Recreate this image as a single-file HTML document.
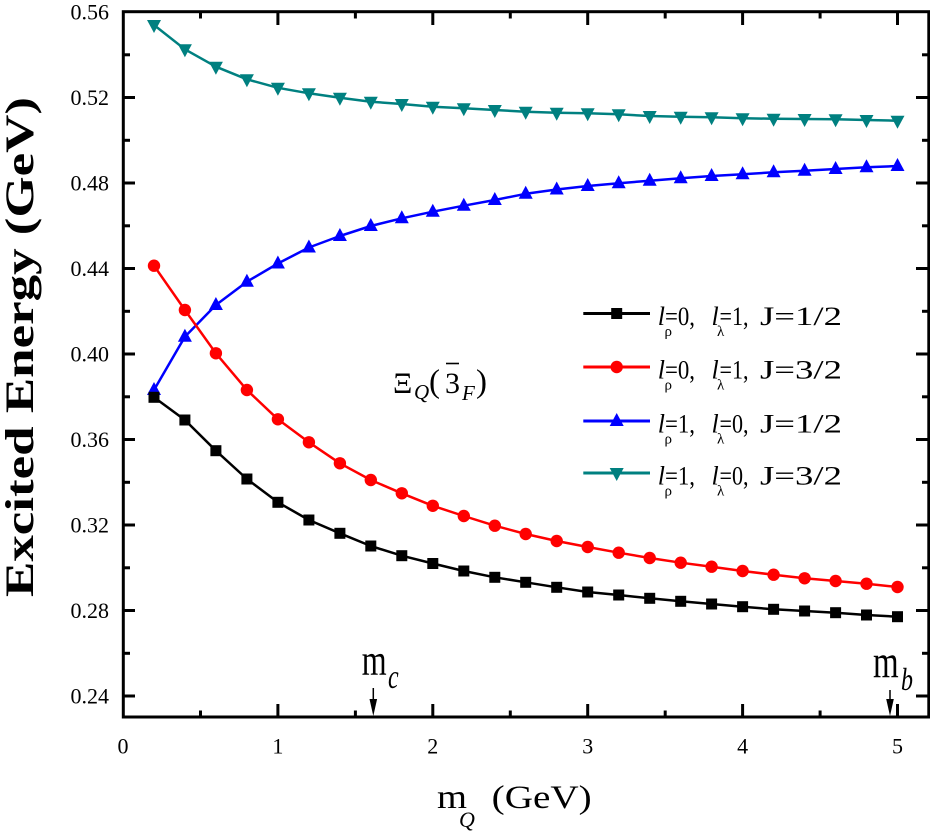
<!DOCTYPE html>
<html><head><meta charset="utf-8"><style>
html,body{margin:0;padding:0;background:#fff;}
svg{display:block;font-family:"Liberation Serif","Noto Serif CJK SC","Times New Roman",Times,serif;}
svg text{font-family:"Liberation Serif","Noto Serif CJK SC","Times New Roman",Times,serif !important;fill:#000;}
</style></head><body>
<svg width="930" height="833" viewBox="0 0 930 833" xmlns="http://www.w3.org/2000/svg" font-family="Liberation Serif, Noto Serif CJK SC, Times New Roman, Times, serif">
<defs>
<rect id="sq" x="-5.5" y="-5.5" width="11" height="11" fill="#000"/>
<circle id="ci" r="6.2" fill="#ff0000"/>
<polygon id="tu" points="0,-8 7,5 -7,5" fill="#0000ff"/>
<polygon id="td" points="0,8 7,-5 -7,-5" fill="#008080"/>
</defs>
<rect x="0" y="0" width="930" height="833" fill="#fff"/>

<g fill="none" stroke-width="2.5" stroke-linejoin="round">
<polyline stroke="#008080" points="154.0,25 184.9,49.3 215.9,66.7 246.9,79.3 277.9,87.8 308.9,93.3 339.9,97.7 370.8,101.7 401.8,104 432.8,106.7 463.8,108.3 494.8,110 525.7,111.7 556.7,112.7 587.7,113.3 618.7,114.3 649.7,116 680.7,116.7 711.6,117.3 742.6,118.3 773.6,118.7 804.6,119 835.6,119.3 866.5,120 897.5,120.7"/>
<polyline stroke="#0000ff" points="154.0,390 184.9,336.7 215.9,305 246.9,281.7 277.9,263.5 308.9,247.5 339.9,236 370.8,226 401.8,218.3 432.8,211.7 463.8,205.7 494.8,200 525.7,193.8 556.7,189.5 587.7,186 618.7,183.3 649.7,180.7 680.7,178.3 711.6,176 742.6,174.3 773.6,172.3 804.6,170.7 835.6,169 866.5,167.3 897.5,166"/>
<polyline stroke="#ff0000" points="154.0,265.7 184.9,310 215.9,353.3 246.9,390 277.9,419.3 308.9,442.3 339.9,463.3 370.8,480 401.8,493.3 432.8,505.8 463.8,516 494.8,525.7 525.7,534 556.7,541 587.7,547 618.7,552.7 649.7,558 680.7,562.7 711.6,566.7 742.6,571 773.6,574.7 804.6,578.3 835.6,581 866.5,583.7 897.5,587"/>
<polyline stroke="#000" points="154.0,397.3 184.9,420 215.9,450.7 246.9,479 277.9,502.3 308.9,520 339.9,533.3 370.8,546 401.8,555.7 432.8,563.5 463.8,571 494.8,577.3 525.7,582.3 556.7,587.3 587.7,592 618.7,595 649.7,598.3 680.7,601.3 711.6,604 742.6,606.7 773.6,609.3 804.6,611 835.6,612.7 866.5,615 897.5,616.7"/>
</g>
<g>
<use href="#td" x="154.0" y="25"/><use href="#td" x="184.9" y="49.3"/><use href="#td" x="215.9" y="66.7"/><use href="#td" x="246.9" y="79.3"/><use href="#td" x="277.9" y="87.8"/><use href="#td" x="308.9" y="93.3"/><use href="#td" x="339.9" y="97.7"/><use href="#td" x="370.8" y="101.7"/><use href="#td" x="401.8" y="104"/><use href="#td" x="432.8" y="106.7"/><use href="#td" x="463.8" y="108.3"/><use href="#td" x="494.8" y="110"/><use href="#td" x="525.7" y="111.7"/><use href="#td" x="556.7" y="112.7"/><use href="#td" x="587.7" y="113.3"/><use href="#td" x="618.7" y="114.3"/><use href="#td" x="649.7" y="116"/><use href="#td" x="680.7" y="116.7"/><use href="#td" x="711.6" y="117.3"/><use href="#td" x="742.6" y="118.3"/><use href="#td" x="773.6" y="118.7"/><use href="#td" x="804.6" y="119"/><use href="#td" x="835.6" y="119.3"/><use href="#td" x="866.5" y="120"/><use href="#td" x="897.5" y="120.7"/>

<use href="#tu" x="154.0" y="390"/><use href="#tu" x="184.9" y="336.7"/><use href="#tu" x="215.9" y="305"/><use href="#tu" x="246.9" y="281.7"/><use href="#tu" x="277.9" y="263.5"/><use href="#tu" x="308.9" y="247.5"/><use href="#tu" x="339.9" y="236"/><use href="#tu" x="370.8" y="226"/><use href="#tu" x="401.8" y="218.3"/><use href="#tu" x="432.8" y="211.7"/><use href="#tu" x="463.8" y="205.7"/><use href="#tu" x="494.8" y="200"/><use href="#tu" x="525.7" y="193.8"/><use href="#tu" x="556.7" y="189.5"/><use href="#tu" x="587.7" y="186"/><use href="#tu" x="618.7" y="183.3"/><use href="#tu" x="649.7" y="180.7"/><use href="#tu" x="680.7" y="178.3"/><use href="#tu" x="711.6" y="176"/><use href="#tu" x="742.6" y="174.3"/><use href="#tu" x="773.6" y="172.3"/><use href="#tu" x="804.6" y="170.7"/><use href="#tu" x="835.6" y="169"/><use href="#tu" x="866.5" y="167.3"/><use href="#tu" x="897.5" y="166"/>

<use href="#ci" x="154.0" y="265.7"/><use href="#ci" x="184.9" y="310"/><use href="#ci" x="215.9" y="353.3"/><use href="#ci" x="246.9" y="390"/><use href="#ci" x="277.9" y="419.3"/><use href="#ci" x="308.9" y="442.3"/><use href="#ci" x="339.9" y="463.3"/><use href="#ci" x="370.8" y="480"/><use href="#ci" x="401.8" y="493.3"/><use href="#ci" x="432.8" y="505.8"/><use href="#ci" x="463.8" y="516"/><use href="#ci" x="494.8" y="525.7"/><use href="#ci" x="525.7" y="534"/><use href="#ci" x="556.7" y="541"/><use href="#ci" x="587.7" y="547"/><use href="#ci" x="618.7" y="552.7"/><use href="#ci" x="649.7" y="558"/><use href="#ci" x="680.7" y="562.7"/><use href="#ci" x="711.6" y="566.7"/><use href="#ci" x="742.6" y="571"/><use href="#ci" x="773.6" y="574.7"/><use href="#ci" x="804.6" y="578.3"/><use href="#ci" x="835.6" y="581"/><use href="#ci" x="866.5" y="583.7"/><use href="#ci" x="897.5" y="587"/>

<use href="#sq" x="154.0" y="397.3"/><use href="#sq" x="184.9" y="420"/><use href="#sq" x="215.9" y="450.7"/><use href="#sq" x="246.9" y="479"/><use href="#sq" x="277.9" y="502.3"/><use href="#sq" x="308.9" y="520"/><use href="#sq" x="339.9" y="533.3"/><use href="#sq" x="370.8" y="546"/><use href="#sq" x="401.8" y="555.7"/><use href="#sq" x="432.8" y="563.5"/><use href="#sq" x="463.8" y="571"/><use href="#sq" x="494.8" y="577.3"/><use href="#sq" x="525.7" y="582.3"/><use href="#sq" x="556.7" y="587.3"/><use href="#sq" x="587.7" y="592"/><use href="#sq" x="618.7" y="595"/><use href="#sq" x="649.7" y="598.3"/><use href="#sq" x="680.7" y="601.3"/><use href="#sq" x="711.6" y="604"/><use href="#sq" x="742.6" y="606.7"/><use href="#sq" x="773.6" y="609.3"/><use href="#sq" x="804.6" y="611"/><use href="#sq" x="835.6" y="612.7"/><use href="#sq" x="866.5" y="615"/><use href="#sq" x="897.5" y="616.7"/>
</g>

<rect x="123.3" y="11.7" width="805.5" height="705.3" fill="none" stroke="#000" stroke-width="3"/>
<g stroke="#000" stroke-width="3">
<line x1="277.9" y1="717" x2="277.9" y2="704"/><line x1="432.8" y1="717" x2="432.8" y2="704"/><line x1="587.7" y1="717" x2="587.7" y2="704"/><line x1="742.6" y1="717" x2="742.6" y2="704"/><line x1="897.5" y1="717" x2="897.5" y2="704"/>
<line x1="277.9" y1="12" x2="277.9" y2="25"/><line x1="432.8" y1="12" x2="432.8" y2="25"/><line x1="587.7" y1="12" x2="587.7" y2="25"/><line x1="742.6" y1="12" x2="742.6" y2="25"/><line x1="897.5" y1="12" x2="897.5" y2="25"/>
<line x1="200.5" y1="717" x2="200.5" y2="710.5"/><line x1="355.4" y1="717" x2="355.4" y2="710.5"/><line x1="510.3" y1="717" x2="510.3" y2="710.5"/><line x1="665.2" y1="717" x2="665.2" y2="710.5"/><line x1="820.1" y1="717" x2="820.1" y2="710.5"/>
<line x1="200.5" y1="12" x2="200.5" y2="18.5"/><line x1="355.4" y1="12" x2="355.4" y2="18.5"/><line x1="510.3" y1="12" x2="510.3" y2="18.5"/><line x1="665.2" y1="12" x2="665.2" y2="18.5"/><line x1="820.1" y1="12" x2="820.1" y2="18.5"/>
<line x1="123" y1="696" x2="135" y2="696"/><line x1="123" y1="610.5" x2="135" y2="610.5"/><line x1="123" y1="525" x2="135" y2="525"/><line x1="123" y1="439.5" x2="135" y2="439.5"/><line x1="123" y1="354" x2="135" y2="354"/><line x1="123" y1="268.5" x2="135" y2="268.5"/><line x1="123" y1="183" x2="135" y2="183"/><line x1="123" y1="97.5" x2="135" y2="97.5"/>
<line x1="929" y1="696" x2="916" y2="696"/><line x1="929" y1="610.5" x2="916" y2="610.5"/><line x1="929" y1="525" x2="916" y2="525"/><line x1="929" y1="439.5" x2="916" y2="439.5"/><line x1="929" y1="354" x2="916" y2="354"/><line x1="929" y1="268.5" x2="916" y2="268.5"/><line x1="929" y1="183" x2="916" y2="183"/><line x1="929" y1="97.5" x2="916" y2="97.5"/>
<line x1="123" y1="653.3" x2="130" y2="653.3"/><line x1="123" y1="567.8" x2="130" y2="567.8"/><line x1="123" y1="482.3" x2="130" y2="482.3"/><line x1="123" y1="396.8" x2="130" y2="396.8"/><line x1="123" y1="311.3" x2="130" y2="311.3"/><line x1="123" y1="225.8" x2="130" y2="225.8"/><line x1="123" y1="140.3" x2="130" y2="140.3"/><line x1="123" y1="54.8" x2="130" y2="54.8"/>
<line x1="929" y1="653.3" x2="922" y2="653.3"/><line x1="929" y1="567.8" x2="922" y2="567.8"/><line x1="929" y1="482.3" x2="922" y2="482.3"/><line x1="929" y1="396.8" x2="922" y2="396.8"/><line x1="929" y1="311.3" x2="922" y2="311.3"/><line x1="929" y1="225.8" x2="922" y2="225.8"/><line x1="929" y1="140.3" x2="922" y2="140.3"/><line x1="929" y1="54.8" x2="922" y2="54.8"/>
</g>

<g font-size="22" text-anchor="end">
<text x="109" y="19.5">0.56</text>
<text x="109" y="105">0.52</text>
<text x="109" y="190.5">0.48</text>
<text x="109" y="276">0.44</text>
<text x="109" y="361.5">0.40</text>
<text x="109" y="447">0.36</text>
<text x="109" y="532.5">0.32</text>
<text x="109" y="618">0.28</text>
<text x="109" y="703.5">0.24</text>
</g>
<g font-size="22" text-anchor="middle">
<text x="123" y="753.5">0</text>
<text x="277.9" y="753.5">1</text>
<text x="432.8" y="753.5">2</text>
<text x="587.7" y="753.5">3</text>
<text x="742.6" y="753.5">4</text>
<text x="897.5" y="753.5">5</text>
</g>

<text transform="translate(33,347) rotate(-90)" text-anchor="middle" font-weight="bold" font-size="40" textLength="500" lengthAdjust="spacingAndGlyphs">Excited Energy (GeV)</text>
<text x="437" y="808" font-size="34" textLength="30" lengthAdjust="spacingAndGlyphs">m</text>
<text x="459" y="827" font-size="22" font-style="italic">Q</text>
<text x="491.7" y="808" font-size="33" textLength="100" lengthAdjust="spacingAndGlyphs">(GeV)</text>

<text transform="translate(361.7,675) scale(1,1.4)" font-size="32">m</text>
<text transform="translate(388,688) scale(1,1.4)" font-size="24" font-style="italic">c</text>
<line x1="373.3" y1="688" x2="373.3" y2="702" stroke="#000" stroke-width="1.5"/>
<polygon points="369.5,699 377.1,699 373.3,716" fill="#000"/>
<text transform="translate(873,677) scale(1,1.4)" font-size="33">m</text>
<text transform="translate(901,690) scale(1,1.3)" font-size="24" font-style="italic">b</text>
<line x1="890" y1="690" x2="890" y2="702" stroke="#000" stroke-width="1.5"/>
<polygon points="886.2,699 893.8,699 890,716" fill="#000"/>

<text x="393" y="393" font-size="30">Ξ</text>
<text x="414" y="399" font-size="21" font-style="italic">Q</text>
<text x="429" y="392" font-size="33">(</text>
<text x="445" y="393" font-size="30">3</text>
<line x1="446" y1="363.5" x2="459" y2="363.5" stroke="#000" stroke-width="1.6"/>
<text x="462" y="400" font-size="21" font-style="italic">F</text>
<text x="476" y="392" font-size="33">)</text>

<g stroke-width="3">
<line x1="583.3" y1="313.5" x2="650" y2="313.5" stroke="#000"/>
<line x1="583.3" y1="367" x2="650" y2="367" stroke="#ff0000"/>
<line x1="583.3" y1="421" x2="650" y2="421" stroke="#0000ff"/>
<line x1="583.3" y1="473" x2="650" y2="473" stroke="#008080"/>
</g>
<use href="#sq" x="616.7" y="313.5"/>
<use href="#ci" x="616.7" y="367"/>
<use href="#tu" x="616.7" y="421"/>
<use href="#td" x="616.7" y="473"/>

<g font-size="26">
<text x="657.7" y="325" font-style="italic">l</text>
<text x="664.5" y="336" font-size="15">ρ</text>
<text x="665" y="325" textLength="30" lengthAdjust="spacingAndGlyphs">=0,</text>
<text x="711.5" y="325" font-style="italic">l</text>
<text x="717" y="336" font-size="15">λ</text>
<text x="719.5" y="325" textLength="29" lengthAdjust="spacingAndGlyphs">=1,</text>
<text x="760" y="325" textLength="82" lengthAdjust="spacingAndGlyphs">J=1/2</text>

<text x="657.7" y="378.5" font-style="italic">l</text>
<text x="664.5" y="389.5" font-size="15">ρ</text>
<text x="665" y="378.5" textLength="30" lengthAdjust="spacingAndGlyphs">=0,</text>
<text x="711.5" y="378.5" font-style="italic">l</text>
<text x="717" y="389.5" font-size="15">λ</text>
<text x="719.5" y="378.5" textLength="29" lengthAdjust="spacingAndGlyphs">=1,</text>
<text x="760" y="378.5" textLength="82" lengthAdjust="spacingAndGlyphs">J=3/2</text>

<text x="657.7" y="432.5" font-style="italic">l</text>
<text x="664.5" y="443.5" font-size="15">ρ</text>
<text x="665" y="432.5" textLength="30" lengthAdjust="spacingAndGlyphs">=1,</text>
<text x="711.5" y="432.5" font-style="italic">l</text>
<text x="717" y="443.5" font-size="15">λ</text>
<text x="719.5" y="432.5" textLength="29" lengthAdjust="spacingAndGlyphs">=0,</text>
<text x="760" y="432.5" textLength="82" lengthAdjust="spacingAndGlyphs">J=1/2</text>

<text x="657.7" y="484.5" font-style="italic">l</text>
<text x="664.5" y="495.5" font-size="15">ρ</text>
<text x="665" y="484.5" textLength="30" lengthAdjust="spacingAndGlyphs">=1,</text>
<text x="711.5" y="484.5" font-style="italic">l</text>
<text x="717" y="495.5" font-size="15">λ</text>
<text x="719.5" y="484.5" textLength="29" lengthAdjust="spacingAndGlyphs">=0,</text>
<text x="760" y="484.5" textLength="82" lengthAdjust="spacingAndGlyphs">J=3/2</text>
</g>
</svg>
</body></html>
